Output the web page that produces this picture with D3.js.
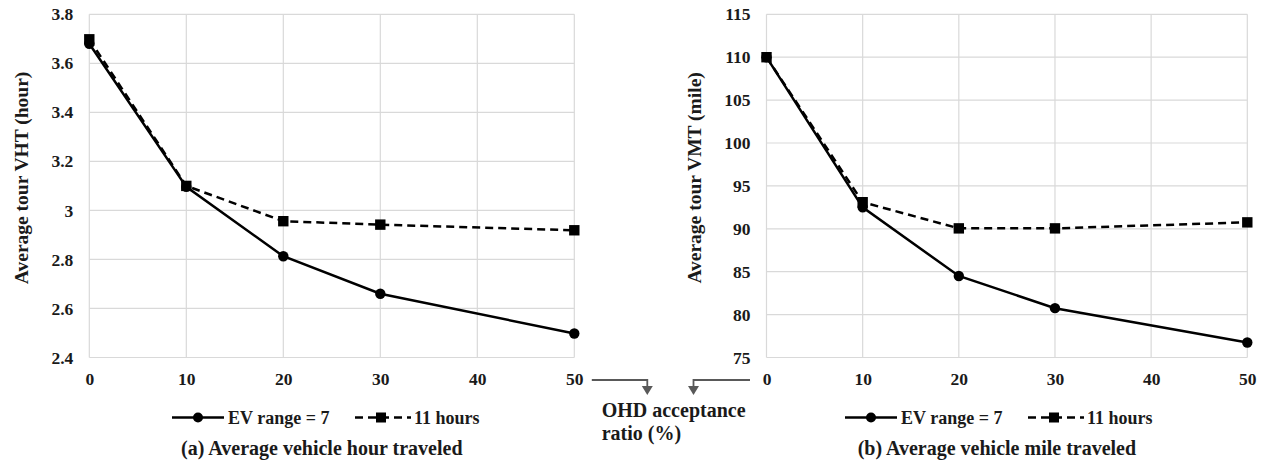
<!DOCTYPE html>
<html>
<head>
<meta charset="utf-8">
<script src="https://cdn.jsdelivr.net/npm/d3@7"></script>
<style>
  html, body { margin: 0; padding: 0; background: #fff; }
  svg { display: block; }
  svg text { font-family: "Liberation Serif", "DejaVu Serif", "Times New Roman", serif !important; font-weight: 700 !important; fill: #1a1a1a; }
</style>
</head>
<body>
<svg id="chart" width="1267" height="472"></svg>
<script>
// ---- data ----
const ratios = [0, 10, 20, 30, 50];
const xTicks = [0, 10, 20, 30, 40, 50];
const vhtEV7 = [3.68, 3.096, 2.813, 2.66, 2.498];
const vht11 = [3.698, 3.10, 2.956, 2.942, 2.919];
const vmtEV7 = [110, 92.5, 84.5, 80.75, 76.75];
const vmt11 = [110, 93.1, 90.05, 90.05, 90.75];
const vhtTicks = [2.4, 2.6, 2.8, 3.0, 3.2, 3.4, 3.6, 3.8];
const vmtTicks = [75, 80, 85, 90, 95, 100, 105, 110, 115];
const seriesNames = ["EV range = 7", "11 hours"];
const yTitles = ["Average tour VHT (hour)", "Average tour VMT (mile)"];
const captions = ["(a) Average vehicle hour traveled", "(b) Average vehicle mile traveled"];
const middleLabel = ["OHD acceptance", "ratio (%)"];

const FONT = "'Liberation Serif', 'DejaVu Serif', 'Times New Roman', serif";
const svg = d3.select("#chart");
svg.append("rect").attr("width", 1267).attr("height", 472).attr("fill", "#fff");

const panels = [
  { left: 89.3, right: 574.3, top: 14.3, bottom: 357.5, domain: [2.4, 3.8], ticks: vhtTicks,
    fmt: d => String(+d.toFixed(1)), s1: vhtEV7, s2: vht11, title: yTitles[0], titleX: 21,
    caption: captions[0], legendX: 172 },
  { left: 766.5, right: 1247.3, top: 14.3, bottom: 357.5, domain: [75, 115], ticks: vmtTicks,
    fmt: d => String(d), s1: vmtEV7, s2: vmt11, title: yTitles[1], titleX: 694,
    caption: captions[1], legendX: 845 }
];

function styleText(sel, size) {
  sel.attr("font-family", FONT).attr("font-weight", "bold").attr("font-size", size)
    .style("font-family", FONT).style("font-weight", "700").style("font-size", size + "px")
    .attr("fill", "#1a1a1a");
  return sel;
}

const scales = [];
panels.forEach(p => {
  const x = d3.scaleLinear().domain([0, 50]).range([p.left, p.right]);
  const y = d3.scaleLinear().domain(p.domain).range([p.bottom, p.top]);
  scales.push({ x, y });
  const g = svg.append("g");

  // gridlines
  g.append("g").selectAll("line").data(p.ticks).join("line")
    .attr("x1", p.left).attr("x2", p.right)
    .attr("y1", d => y(d)).attr("y2", d => y(d))
    .attr("stroke", "#d9d9d9").attr("stroke-width", 1.2);
  g.append("g").selectAll("line").data(xTicks).join("line")
    .attr("x1", d => x(d)).attr("x2", d => x(d))
    .attr("y1", p.top).attr("y2", p.bottom)
    .attr("stroke", "#d9d9d9").attr("stroke-width", 1.2);

  // y axis
  const yAxis = d3.axisLeft(y).tickValues(p.ticks).tickFormat(p.fmt).tickSize(0).tickPadding(16);
  const ya = g.append("g").attr("transform", `translate(${p.left},0)`).call(yAxis);
  ya.select(".domain").remove();
  styleText(ya.selectAll("text"), 17.5);

  // x axis
  const xAxis = d3.axisBottom(x).tickValues(xTicks).tickFormat(d3.format("d")).tickSize(0).tickPadding(15);
  const xa = g.append("g").attr("transform", `translate(0,${p.bottom})`).call(xAxis);
  xa.select(".domain").remove();
  styleText(xa.selectAll("text"), 17.5);

  // y title
  styleText(g.append("text")
    .attr("transform", `translate(${p.titleX},${(p.top + p.bottom) / 2 - 8}) rotate(-90)`)
    .attr("text-anchor", "middle").attr("dy", "0.35em"), 19.5).text(p.title);

  // lines
  const line = d3.line().x((d, i) => x(ratios[i])).y(d => y(d));
  g.append("path").datum(p.s2).attr("d", line).attr("fill", "none")
    .attr("stroke", "#000").attr("stroke-width", 2.5).attr("stroke-dasharray", "8,5");
  g.append("path").datum(p.s1).attr("d", line).attr("fill", "none")
    .attr("stroke", "#000").attr("stroke-width", 2.5);
  g.append("g").selectAll("rect").data(p.s2).join("rect")
    .attr("x", (d, i) => x(ratios[i]) - 5.2).attr("y", d => y(d) - 5.2)
    .attr("width", 10.4).attr("height", 10.4).attr("fill", "#000");
  g.append("g").selectAll("circle").data(p.s1).join("circle")
    .attr("cx", (d, i) => x(ratios[i])).attr("cy", d => y(d)).attr("r", 5.2).attr("fill", "#000");

  // legend
  const ly = 417.5;
  const lg = g.append("g").attr("transform", `translate(${p.legendX},${ly})`);
  lg.append("line").attr("x1", 0).attr("x2", 52).attr("y1", 0).attr("y2", 0)
    .attr("stroke", "#000").attr("stroke-width", 2.5);
  lg.append("circle").attr("cx", 26).attr("cy", 0).attr("r", 5).attr("fill", "#000");
  styleText(lg.append("text").attr("x", 56).attr("y", 6), 18).text(seriesNames[0]);
  lg.append("line").attr("x1", 183).attr("x2", 239).attr("y1", 0).attr("y2", 0)
    .attr("stroke", "#000").attr("stroke-width", 2.5).attr("stroke-dasharray", "8,5");
  lg.append("rect").attr("x", 204).attr("y", -5).attr("width", 10).attr("height", 10).attr("fill", "#000");
  styleText(lg.append("text").attr("x", 242).attr("y", 6), 18).text(seriesNames[1]);

  // caption
  styleText(g.append("text").attr("x", (p.left + p.right) / 2 - 10).attr("y", 455)
    .attr("text-anchor", "middle"), 20).text(p.caption);
});

// middle annotation arrows
const arrowColor = "#595959";
const ax = scales[0].x, bx = scales[1].x;
const a1 = { from: ax(50) + 17.5, to: ax(50) + 73 };
const a2 = { from: bx(0) - 16.5, to: bx(0) - 73 };
[a1, a2].forEach(a => {
  svg.append("path")
    .attr("d", `M${a.from},380 H${a.to} V388`)
    .attr("fill", "none").attr("stroke", arrowColor).attr("stroke-width", 1.8);
  svg.append("path")
    .attr("d", `M${a.to - 5.5},386 L${a.to + 5.5},386 L${a.to},395 Z`)
    .attr("fill", arrowColor);
});
styleText(svg.append("text").attr("x", 601.7).attr("y", 417.3), 20).text(middleLabel[0]);
styleText(svg.append("text").attr("x", 601.7).attr("y", 440), 20).text(middleLabel[1]);
</script>
</body>
</html>
